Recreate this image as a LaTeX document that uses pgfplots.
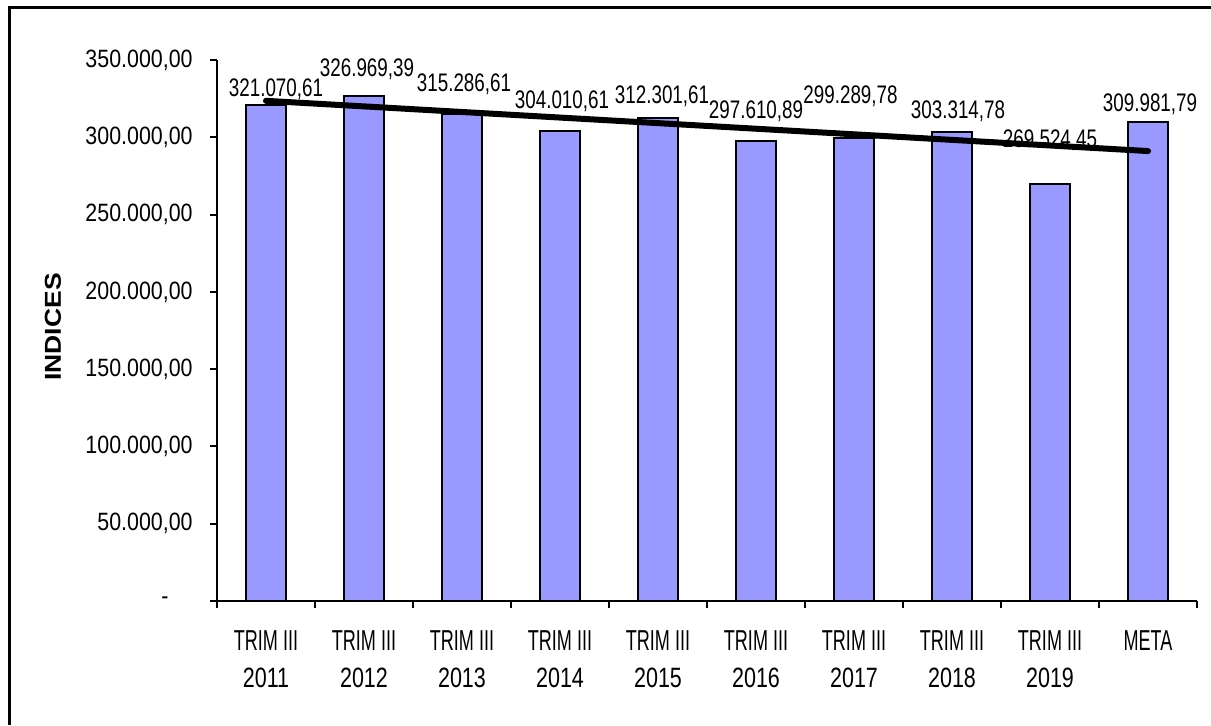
\documentclass[border=0pt]{standalone}
\usepackage{pgfplots}
\pgfplotsset{compat=1.18}
\usepackage{pgfplotstable}
\usepackage{graphicx}
\usepackage{fontspec}
\setmainfont{Liberation Sans}

\definecolor{barfill}{HTML}{9999FF}

% Text in this chart is drawn slightly narrow and tall
\newcommand\yl[1]{\scalebox{1}[1.17]{#1}}
\newcommand\xa[1]{\scalebox{0.84}[1.34]{#1}}
\newcommand\xb[1]{\scalebox{1}[1.3]{#1}}
\newcommand\dl[1]{\scalebox{1}[1.35]{#1}}

% value, label text and label offsets (pt) from the top of each bar
\pgfplotstableread{
x y lab dx dy
0 321070.61 321.070,61 5 4
1 326969.39 326.969,39 1.5 9.5
2 315286.61 315.286,61 1 11
3 304010.61 304.010,61 1 11.5
4 312301.61 312.301,61 2 7.5
5 297610.89 297.610,89 0 11
6 299289.78 299.289,78 -1.75 17.5
7 303314.78 303.314,78 3 7
8 269524.45 269.524,45 0 18.5
9 309981.79 309.981,79 1 5
}\indices

\begin{document}
\begin{tikzpicture}
\useasboundingbox (0,0) rectangle (605.5pt,362.5pt);
\draw[line width=1.5pt] (4.5pt,0pt) -- (4.5pt,358.75pt) -- (605.5pt,358.75pt);
\begin{axis}[
  at={(108.5pt,62pt)}, anchor=south west,
  scale only axis, width=490pt, height=270.5pt,
  xmin=-0.5, xmax=9.5, ymin=0, ymax=350000,
  axis x line*=bottom, axis y line*=left,
  axis line style={line width=1pt, black},
  tick align=outside,
  major tick length=3.5pt,
  tick style={line width=1pt, black},
  scaled y ticks=false,
  ytick={0,50000,100000,150000,200000,250000,300000,350000},
  yticklabels={{\yl{-}\kern12pt\null},\yl{50.000,00},\yl{100.000,00},\yl{150.000,00},\yl{200.000,00},\yl{250.000,00},\yl{300.000,00},\yl{350.000,00}},
  yticklabel style={font=\fontsize{10.7}{12}\selectfont, anchor=east, inner sep=0pt, xshift=-8.5pt},
  xtick={-0.5,0.5,1.5,2.5,3.5,4.5,5.5,6.5,7.5,8.5,9.5},
  x tick label as interval,
  xticklabels={
    \xa{TRIM III}\\\xb{2011},
    \xa{TRIM III}\\\xb{2012},
    \xa{TRIM III}\\\xb{2013},
    \xa{TRIM III}\\\xb{2014},
    \xa{TRIM III}\\\xb{2015},
    \xa{TRIM III}\\\xb{2016},
    \xa{TRIM III}\\\xb{2017},
    \xa{TRIM III}\\\xb{2018},
    \xa{TRIM III}\\\xb{2019},
    \xa{META}},
  xticklabel style={font=\fontsize{10.75}{18.7}\selectfont, align=center, anchor=north, inner sep=0pt, yshift=-11pt},
  ylabel={\scalebox{1.15}[1]{INDICES}},
  every axis y label/.style={at={(axis description cs:-0.1673,0.5065)}, rotate=90, anchor=center, font=\fontsize{11.5}{13}\selectfont\bfseries},
  clip=false,
]
\addplot[ybar, bar width=20.3pt, fill=barfill, draw=black, line width=1pt,
  point meta=explicit symbolic,
  visualization depends on={\thisrow{dx} \as \labdx},
  visualization depends on={\thisrow{dy} \as \labdy},
  nodes near coords={\dl{\pgfplotspointmeta}},
  every node near coord/.style={anchor=base, inner sep=0pt, font=\fontsize{9.4}{11}\selectfont, xshift=\labdx*1pt, yshift=\labdy*1pt},
] table[x=x, y=y, meta=lab] {\indices};
% linear trend of the ten values
\addplot[black, line width=3pt, line cap=round] coordinates {(0,323600) (9,291100)};
\end{axis}
\end{tikzpicture}
\end{document}
